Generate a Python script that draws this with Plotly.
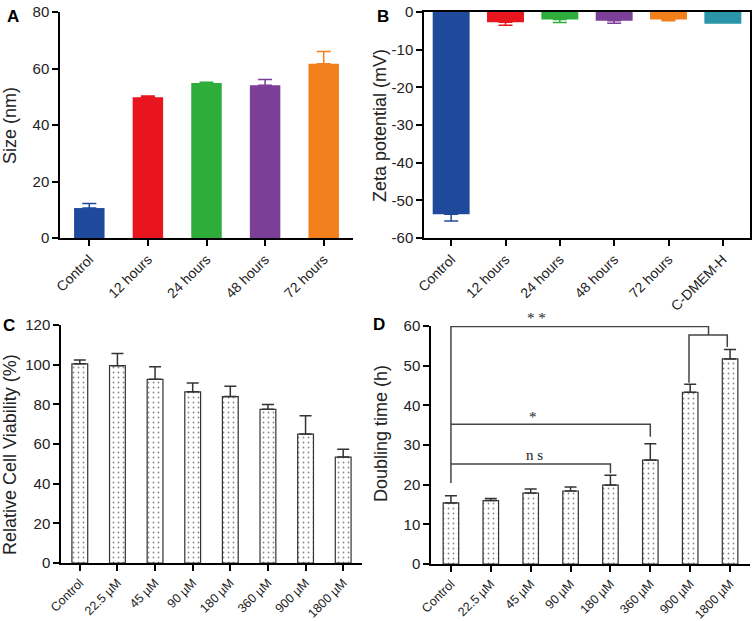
import plotly.graph_objects as go

# ---- data -------------------------------------------------------------
size_groups = ["Control", "12 hours", "24 hours", "48 hours", "72 hours"]
size_nm = [10.6, 49.8, 54.9, 54.1, 61.7]
size_err = [1.6, 0.5, 0.2, 2.0, 4.3]

zeta_groups = ["Control", "12 hours", "24 hours", "48 hours", "72 hours", "C-DMEM-H"]
zeta_mv = [-53.7, -2.7, -2.0, -2.3, -2.0, -3.1]
zeta_err = [1.8, 0.8, 0.8, 0.7, 0.3, 0.0]
zeta_ticks = [-60, -50, -40, -30, -20, -10, 0]
zeta_ticklabels = ["-60", "-50", "-40", "-30", "-20", "-10", "0"]

dose_groups = ["Control", "22.5 µM", "45 µM", "90 µM", "180 µM", "360 µM", "900 µM", "1800 µM"]
viability = [100.4, 99.5, 92.6, 86.3, 83.9, 77.5, 65.0, 53.4]
viability_err = [2.0, 6.1, 6.4, 4.5, 5.2, 2.4, 9.2, 4.0]

doubling = [15.4, 16.0, 17.9, 18.4, 19.9, 26.2, 43.3, 51.7]
doubling_err = [1.8, 0.5, 1.0, 1.0, 2.5, 4.1, 2.0, 2.4]

colors_a = ["#1F4A9C", "#E8141E", "#2EAD3A", "#7B3F98", "#F07F1C"]
colors_b = colors_a + ["#2A95A8"]

# significance brackets for panel D: (x path, y path)
ns_x = [0, 0, 4, 4]
ns_y = [20.4, 25.2, 25.2, 22.9]
star_x = [0, 0, 5, 5]
star_y = [25.2, 35.2, 35.2, 32.1]
dstar_x = [0, 0, 6.46, 6.46]
dstar_y = [35.2, 59.9, 59.9, 57.7]
pair_x = [5.97, 5.97, 6.93, 6.93]
pair_y = [45.7, 57.7, 57.7, 54.7]
sig_labels = [("n s", 2.1, 27.6), ("*", 2.05, 37.0)]
top_label = ("* *", 2.15)

W, H = 753, 621
FONT = "Liberation Sans, Arial, sans-serif"


def dom_x(a, b):
    return [a / W, b / W]


def dom_y(top, bottom):
    return [1 - bottom / H, 1 - top / H]


fig = go.Figure()

# A: one trace per bar so each error bar takes the bar colour
for g, v, e, c in zip(size_groups, size_nm, size_err, colors_a):
    fig.add_trace(go.Bar(
        x=[g], y=[v], xaxis="x", yaxis="y", width=0.52,
        marker=dict(color=c, line=dict(width=0)),
        error_y=dict(type="data", array=[e], arrayminus=[0], symmetric=False,
                     thickness=1.5, width=7, color=c),
        showlegend=False,
    ))

# B
for g, v, e, c in zip(zeta_groups, zeta_mv, zeta_err, colors_b):
    fig.add_trace(go.Bar(
        x=[g], y=[v], xaxis="x2", yaxis="y2", width=0.68,
        marker=dict(color=c, line=dict(width=0)),
        error_y=dict(type="data", array=[0], arrayminus=[e], symmetric=False,
                     thickness=1.5, width=7, color=c, visible=e > 0),
        showlegend=False,
    ))

dot_marker = dict(
    color="white",
    line=dict(color="#333333", width=1.2),
    pattern=dict(shape=".", fgcolor="#111111", bgcolor="white", size=5, solidity=0.1),
)

# C
fig.add_trace(go.Bar(
    x=dose_groups, y=viability, xaxis="x3", yaxis="y3", width=0.42,
    marker=dot_marker,
    error_y=dict(type="data", array=viability_err, arrayminus=[0] * 8, symmetric=False,
                 thickness=1.5, width=6, color="#333333"),
    showlegend=False,
))

# D
fig.add_trace(go.Bar(
    x=list(range(len(dose_groups))), y=doubling, xaxis="x4", yaxis="y4", width=0.39,
    marker=dot_marker,
    error_y=dict(type="data", array=doubling_err, arrayminus=[0] * 8, symmetric=False,
                 thickness=1.5, width=6, color="#333333"),
    showlegend=False,
))
for bx, by in [(ns_x, ns_y), (star_x, star_y), (dstar_x, dstar_y), (pair_x, pair_y)]:
    fig.add_trace(go.Scatter(
        x=bx, y=by, xaxis="x4", yaxis="y4", mode="lines",
        line=dict(color="#444444", width=1.5), showlegend=False, hoverinfo="skip",
        cliponaxis=False,
    ))

axis_common = dict(
    showgrid=False, zeroline=False, showline=True, linecolor="black", linewidth=1.5,
    ticks="outside", ticklen=6, tickwidth=1.5, tickcolor="black", automargin=False,
    tickfont=dict(family=FONT, size=15, color="#222222"),
)
xcat = dict(axis_common, tickangle=-45, tickfont=dict(family=FONT, size=14, color="#222222"))
xdose = dict(axis_common, tickangle=-45, tickfont=dict(family=FONT, size=12.5, color="#222222"))

fig.update_layout(
    width=W, height=H,
    margin=dict(l=0, r=0, t=0, b=0),
    paper_bgcolor="white", plot_bgcolor="white",
    barmode="overlay",
    font=dict(family=FONT, color="#222222"),
    xaxis=dict(xcat, domain=dom_x(60, 353), anchor="y"),
    yaxis=dict(axis_common, domain=dom_y(12, 238), anchor="x", range=[0, 80], dtick=20),
    xaxis2=dict(xcat, domain=dom_x(424, 750), anchor="y2", mirror=True),
    yaxis2=dict(axis_common, domain=dom_y(12, 238), anchor="x2", range=[-60, 0],
                tickmode="array", tickvals=zeta_ticks, ticktext=zeta_ticklabels, mirror=True),
    xaxis3=dict(xdose, domain=dom_x(61, 362), anchor="y3"),
    yaxis3=dict(axis_common, domain=dom_y(325, 563), anchor="x3", range=[0, 120], dtick=20),
    xaxis4=dict(xdose, domain=dom_x(431, 750), anchor="y4", range=[-0.5, 7.5],
                tickmode="array", tickvals=list(range(len(dose_groups))), ticktext=dose_groups),
    yaxis4=dict(axis_common, domain=dom_y(326, 564), anchor="x4", range=[0, 60], dtick=10),
)

annotations = []
# panel letters
for letter, px, py in [("A", 13, 16), ("B", 383, 16), ("C", 9, 325), ("D", 379, 324)]:
    annotations.append(dict(
        text=f"<b>{letter}</b>", x=px / W, y=1 - py / H, xref="paper", yref="paper",
        showarrow=False, font=dict(family=FONT, size=17, color="black"),
        xanchor="center", yanchor="middle",
    ))
# y-axis titles
for title, px, py in [("Size (nm)", 10, 126), ("Zeta potential (mV)", 380, 126),
                      ("Relative Cell Viability (%)", 10, 455), ("Doubling time (h)", 381, 434)]:
    annotations.append(dict(
        text=title, x=px / W, y=1 - py / H, xref="paper", yref="paper", textangle=-90,
        showarrow=False, font=dict(family=FONT, size=18, color="#222222"),
        xanchor="center", yanchor="middle",
    ))
# significance labels
sig_font = dict(family="Liberation Serif, Times New Roman, serif", size=15, color="#222222")
for lab, lx, ly in sig_labels:
    annotations.append(dict(
        text=lab, x=lx, y=ly, xref="x4", yref="y4", showarrow=False,
        font=sig_font, xanchor="center", yanchor="middle",
    ))
annotations.append(dict(
    text=top_label[0], x=top_label[1], y=1.035, xref="x4", yref="y4 domain",
    showarrow=False, font=sig_font, xanchor="center", yanchor="middle",
))
fig.update_layout(annotations=annotations)

fig.write_html("out.html", config={"displayModeBar": False},
               post_script="document.body.style.margin='0';")
